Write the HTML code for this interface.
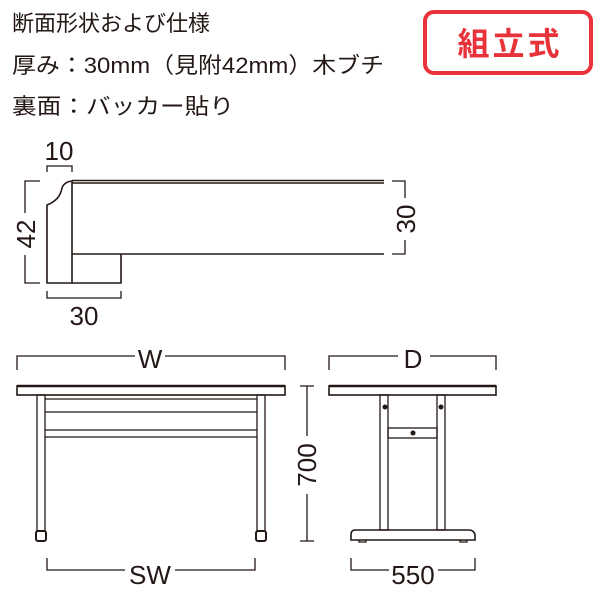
<!DOCTYPE html>
<html><head><meta charset="utf-8"><style>
html,body{margin:0;padding:0;background:#fff;width:600px;height:600px;overflow:hidden}
svg{display:block}
text{font-family:"Liberation Sans","Noto Sans CJK JP",sans-serif;fill:#231815}
</style></head><body>
<svg width="600" height="600" viewBox="0 0 600 600" xmlns="http://www.w3.org/2000/svg">
<g font-size="22">
<text x="12" y="31" textLength="198" lengthAdjust="spacingAndGlyphs">断面形状および仕様</text>
<text x="12" y="73" textLength="372" lengthAdjust="spacingAndGlyphs">厚み：30mm（見附42mm）木ブチ</text>
<text x="12" y="114" textLength="222" lengthAdjust="spacingAndGlyphs">裏面：バッカー貼り</text>
</g>
<rect x="425" y="12" width="166" height="61" rx="9" fill="none" stroke="#e8333a" stroke-width="4"/>
<text x="510" y="55" font-size="32" text-anchor="middle" style="fill:#e8333a;font-weight:bold" letter-spacing="3">組立式</text>

<g fill="none" stroke="#231815" stroke-width="1.6">
<line x1="72" y1="180.5" x2="384" y2="180.5" stroke-width="1.5"/>
<line x1="72" y1="183" x2="384" y2="183" stroke-width="1.5"/>
<path d="M47,283 L47,205 Q60,200 62,188 Q64,182 72,181 L72,283 Z"/>
<path d="M72,254 L384,254 M121,254 L121,283 L72,283"/>
<g stroke-width="1.3">
<path d="M47,172 L47,166 L72,166 L72,172"/>
<path d="M40,181 L25,181 L25,213 M25,255 L25,283 L40,283"/>
<path d="M47,291 L47,298 L121,298 L121,291"/>
<path d="M392,181 L405,181 L405,198 M405,240 L405,254 L392,254"/>
</g>
</g>
<g font-size="26">
<text x="59" y="160" text-anchor="middle">10</text>
<text x="84" y="325" text-anchor="middle">30</text>
<text transform="translate(35,234) rotate(-90)" text-anchor="middle">42</text>
<text transform="translate(415,219) rotate(-90)" text-anchor="middle">30</text>
</g>

<g fill="none" stroke="#231815" stroke-width="1.3">
<path d="M17,370 L17,356 L135,356 M165,356 L285,356 L285,370"/>
<rect x="17" y="386" width="268" height="9" stroke-width="1.6"/>
<line x1="17" y1="386" x2="285" y2="386" stroke-width="2.5"/>
<rect x="37" y="395" width="8" height="136"/>
<rect x="257" y="395" width="8" height="136"/>
<rect x="36" y="531" width="10" height="10" rx="2" stroke-width="2"/>
<rect x="256" y="531" width="10" height="10" rx="2" stroke-width="2"/>
<path d="M45,399 L257,399 M45,412 L257,412 M45,430 L257,430 M45,437 L257,437"/>
<path d="M47,558 L47,570 L125,570 M175,570 L255,570 L255,558"/>
</g>
<text x="150" y="368" font-size="26" text-anchor="middle">W</text>
<text x="150" y="584" font-size="26" text-anchor="middle">SW</text>

<g fill="none" stroke="#231815" stroke-width="1.3">
<path d="M329,370 L329,356 L398,356 M430,356 L496,356 L496,370"/>
<rect x="329" y="386" width="167" height="9" stroke-width="1.6"/>
<line x1="329" y1="386" x2="496" y2="386" stroke-width="2.5"/>
<rect x="380" y="395" width="8" height="135"/>
<rect x="437" y="395" width="8" height="135"/>
<rect x="388" y="428" width="49" height="10"/>
<path d="M355,530 L470,530 Q475,531 475,536 L475,540 L351,540 L351,535 Q351,530 355,530 Z" stroke-width="1.6"/>
<path d="M359,540 L359,542 L366,542 L366,540 M460,540 L460,542 L467,542 L467,540"/>
<path d="M300,386 L314,386 M307,386 L307,436 M307,494 L307,541 M300,541 L314,541"/>
<path d="M351,558 L351,570 L389,570 M438,570 L475,570 L475,558"/>
</g>
<g fill="#231815">
<circle cx="385" cy="407" r="2.5"/><circle cx="441" cy="407" r="2.5"/><circle cx="413" cy="433" r="2.5"/>
</g>
<text x="413" y="368" font-size="26" text-anchor="middle">D</text>
<text x="413" y="584" font-size="26" text-anchor="middle">550</text>
<text transform="translate(316,465) rotate(-90)" font-size="26" text-anchor="middle">700</text>
</svg>
</body></html>
